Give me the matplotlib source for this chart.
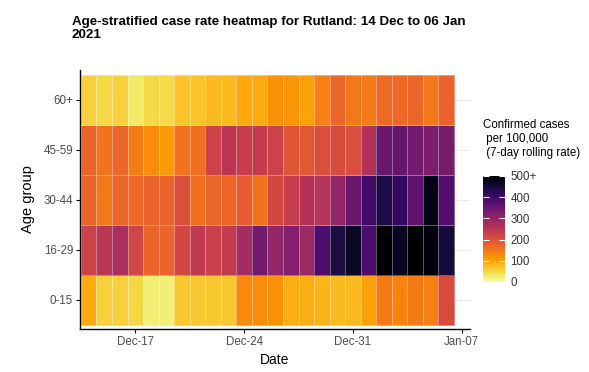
import numpy as np
import pandas as pd
import matplotlib
matplotlib.use('Agg')
import matplotlib.pyplot as plt
import matplotlib.dates as mdates
from matplotlib.colors import Normalize

plt.rcParams['font.family'] = ['Liberation Sans', 'DejaVu Sans']

# data: 7-day rolling case rate per 100,000, 14 Dec 2020 - 06 Jan 2021
dates = pd.date_range('2020-12-14', '2021-01-06', freq='D')
age_groups = ['0-15', '16-29', '30-44', '45-59', '60+']

rate_0_15 = [95, 55, 55, 50, 25, 25, 65, 65, 65, 65, 130, 125,
             120, 90, 90, 85, 80, 80, 105, 145, 135, 145, 140, 210]
rate_16_29 = [225, 250, 270, 220, 175, 175, 215, 245, 230, 240, 280, 340,
              300, 320, 290, 385, 445, 470, 385, 520, 470, 520, 490, 450]
rate_30_44 = [175, 150, 170, 165, 175, 175, 205, 160, 170, 170, 185, 155,
              215, 235, 260, 255, 300, 350, 400, 440, 415, 365, 480, 380]
rate_45_59 = [175, 155, 170, 145, 125, 110, 155, 160, 225, 250, 235, 240,
              225, 195, 190, 205, 210, 205, 260, 350, 355, 340, 330, 335]
rate_60p = [55, 50, 55, 30, 50, 45, 70, 70, 80, 80, 95, 95,
            120, 115, 105, 140, 170, 150, 145, 165, 165, 170, 150, 175]

rates = np.array([rate_0_15, rate_16_29, rate_30_44, rate_45_59, rate_60p])

fig = plt.figure(figsize=(5.89, 3.72), dpi=100)
ax = fig.add_axes([80 / 589, 1 - 329 / 372, 390 / 589, 259 / 372])

x = mdates.date2num(dates)
x_edges = np.append(x - 0.5, x[-1] + 0.5)
y_edges = np.arange(len(age_groups) + 1) - 0.5

norm = Normalize(vmin=0, vmax=500)
ax.set_axisbelow(True)
ax.grid(axis='y', color='#ebebeb', linewidth=0.8)
mesh = ax.pcolormesh(x_edges, y_edges, np.clip(rates, 0, 500), cmap='inferno_r',
                     norm=norm, edgecolors=(1, 1, 1, 0.35), linewidth=0.5, zorder=2)

ax.set_xlim(x[0] - 0.56, x[-1] + 1.53)
ax.set_ylim(-0.58, 4.6)
ax.set_yticks(range(len(age_groups)))
ax.set_yticklabels(age_groups)
ax.xaxis.set_major_locator(mdates.DayLocator(bymonthday=[17, 24, 31, 7]))
ax.xaxis.set_major_formatter(mdates.DateFormatter('%b-%d'))

for side in ['top', 'right']:
    ax.spines[side].set_visible(False)
for side in ['left', 'bottom']:
    ax.spines[side].set_linewidth(1.0)
ax.tick_params(labelsize=8.3, labelcolor='#4d4d4d', length=3, width=0.8, pad=2)
ax.set_xlabel('Date', fontsize=10, labelpad=4)
ax.set_ylabel('Age group', fontsize=10.5, labelpad=6)

fig.text(72 / 589, 1 - 16 / 372, 'Age-stratified case rate heatmap for Rutland: 14 Dec to 06 Jan\n2021',
         fontsize=9.6, fontweight='bold', va='top', ha='left', linespacing=1.1)

# colour legend
cax = fig.add_axes([483 / 589, 1 - 282 / 372, 22 / 589, 106 / 372])
cbar = fig.colorbar(mesh, cax=cax)
cbar.outline.set_visible(False)
cbar.set_ticks([0, 100, 200, 300, 400, 500])
cbar.set_ticklabels(['0', '100', '200', '300', '400', '500+'])
cax.yaxis.set_ticks_position('both')
cax.tick_params(direction='in', color='white', length=4, width=0.8,
                labelsize=8.3, labelcolor='#333333', labelleft=False, labelright=True, pad=4)
fig.text(483 / 589, 1 - 119 / 372, 'Confirmed cases\n per 100,000\n (7-day rolling rate)',
         fontsize=8.3, va='top', ha='left', linespacing=1.2)

fig.savefig('out.png', dpi=100)
